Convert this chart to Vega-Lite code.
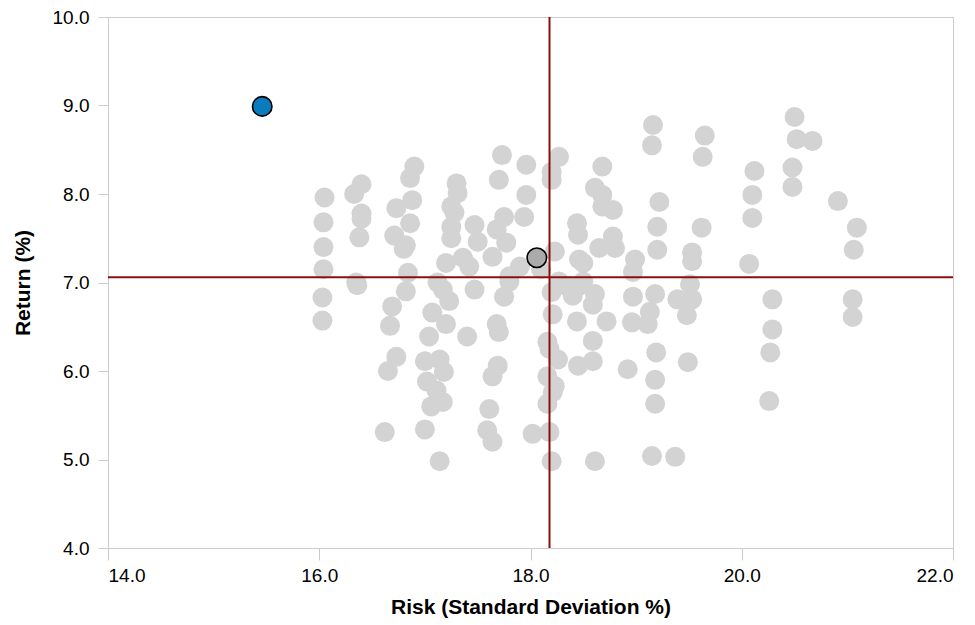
{
  "$schema": "https://vega.github.io/schema/vega-lite/v6.json",
  "width": 845,
  "height": 531,
  "autosize": "none",
  "padding": {"left": 108, "top": 17, "right": 22, "bottom": 77},
  "background": "white",
  "config": {
    "font": "Liberation Sans",
    "view": {"stroke": "#cccccc", "strokeWidth": 1},
    "axis": {
      "grid": false,
      "domainColor": "#cccccc",
      "tickColor": "#cccccc",
      "labelFont": "Liberation Sans",
      "titleFont": "Liberation Sans",
      "labelFontSize": 19,
      "titleFontSize": 21,
      "labelColor": "#000000",
      "titleColor": "#000000",
      "titleFontWeight": "bold"
    }
  },
  "datasets": {
    "peers": [
      {"risk": 16.05, "ret": 7.96}, {"risk": 16.04, "ret": 7.68}, {"risk": 16.04, "ret": 7.40}, {"risk": 16.04, "ret": 7.15}, {"risk": 16.03, "ret": 6.83}, {"risk": 16.03, "ret": 6.57},
      {"risk": 16.40, "ret": 8.11}, {"risk": 16.33, "ret": 8.00}, {"risk": 16.40, "ret": 7.78}, {"risk": 16.40, "ret": 7.72}, {"risk": 16.38, "ret": 7.51}, {"risk": 16.35, "ret": 7.00}, {"risk": 16.36, "ret": 6.97},
      {"risk": 16.90, "ret": 8.31}, {"risk": 16.86, "ret": 8.18}, {"risk": 16.88, "ret": 7.93}, {"risk": 16.73, "ret": 7.84}, {"risk": 16.86, "ret": 7.67}, {"risk": 16.71, "ret": 7.53}, {"risk": 16.82, "ret": 7.42}, {"risk": 16.80, "ret": 7.38}, {"risk": 16.84, "ret": 7.11}, {"risk": 16.82, "ret": 6.90}, {"risk": 16.69, "ret": 6.73}, {"risk": 16.67, "ret": 6.51}, {"risk": 16.73, "ret": 6.16}, {"risk": 16.65, "ret": 6.00}, {"risk": 16.62, "ret": 5.31},
      {"risk": 17.30, "ret": 8.12}, {"risk": 17.31, "ret": 8.01}, {"risk": 17.28, "ret": 7.79}, {"risk": 17.25, "ret": 7.86}, {"risk": 17.25, "ret": 7.63}, {"risk": 17.25, "ret": 7.50}, {"risk": 17.47, "ret": 7.65}, {"risk": 17.50, "ret": 7.46}, {"risk": 17.20, "ret": 7.22}, {"risk": 17.36, "ret": 7.28}, {"risk": 17.42, "ret": 7.18}, {"risk": 17.17, "ret": 6.92}, {"risk": 17.23, "ret": 6.79}, {"risk": 17.07, "ret": 6.66}, {"risk": 17.20, "ret": 6.53}, {"risk": 17.04, "ret": 6.39}, {"risk": 17.40, "ret": 6.39}, {"risk": 17.47, "ret": 6.92}, {"risk": 17.00, "ret": 6.11}, {"risk": 17.14, "ret": 6.13}, {"risk": 17.18, "ret": 5.99}, {"risk": 17.02, "ret": 5.88}, {"risk": 17.11, "ret": 5.78}, {"risk": 17.06, "ret": 5.60}, {"risk": 17.17, "ret": 5.65}, {"risk": 17.00, "ret": 5.34}, {"risk": 17.14, "ret": 4.98}, {"risk": 17.12, "ret": 7.00},
      {"risk": 17.73, "ret": 8.44}, {"risk": 17.70, "ret": 8.16}, {"risk": 17.68, "ret": 7.60}, {"risk": 17.64, "ret": 7.29}, {"risk": 17.75, "ret": 7.74}, {"risk": 17.77, "ret": 7.45}, {"risk": 17.90, "ret": 7.18}, {"risk": 17.80, "ret": 7.07}, {"risk": 17.80, "ret": 7.01}, {"risk": 17.75, "ret": 6.84}, {"risk": 17.68, "ret": 6.53}, {"risk": 17.70, "ret": 6.44}, {"risk": 17.69, "ret": 6.06}, {"risk": 17.64, "ret": 5.94}, {"risk": 17.61, "ret": 5.57}, {"risk": 17.59, "ret": 5.33}, {"risk": 17.64, "ret": 5.20},
      {"risk": 17.96, "ret": 8.33}, {"risk": 17.96, "ret": 7.99}, {"risk": 17.94, "ret": 7.74}, {"risk": 18.27, "ret": 8.42}, {"risk": 18.20, "ret": 8.25}, {"risk": 18.20, "ret": 8.16}, {"risk": 18.10, "ret": 7.15}, {"risk": 18.23, "ret": 7.35}, {"risk": 18.27, "ret": 7.01}, {"risk": 18.02, "ret": 5.29}, {"risk": 18.18, "ret": 5.31}, {"risk": 18.20, "ret": 4.98}, {"risk": 18.16, "ret": 6.33}, {"risk": 18.26, "ret": 6.13}, {"risk": 18.16, "ret": 5.94}, {"risk": 18.23, "ret": 5.83}, {"risk": 18.21, "ret": 5.76}, {"risk": 18.16, "ret": 5.63}, {"risk": 18.20, "ret": 6.89}, {"risk": 18.21, "ret": 6.64}, {"risk": 18.18, "ret": 6.25},
      {"risk": 18.68, "ret": 8.31}, {"risk": 18.61, "ret": 8.07}, {"risk": 18.68, "ret": 7.99}, {"risk": 18.68, "ret": 7.86}, {"risk": 18.78, "ret": 7.82}, {"risk": 18.44, "ret": 7.67}, {"risk": 18.45, "ret": 7.54}, {"risk": 18.46, "ret": 7.26}, {"risk": 18.50, "ret": 7.22}, {"risk": 18.65, "ret": 7.39}, {"risk": 18.78, "ret": 7.52}, {"risk": 18.80, "ret": 7.39}, {"risk": 18.50, "ret": 7.01}, {"risk": 18.34, "ret": 6.96}, {"risk": 18.46, "ret": 6.96}, {"risk": 18.61, "ret": 6.87}, {"risk": 18.59, "ret": 6.75}, {"risk": 18.44, "ret": 6.56}, {"risk": 18.72, "ret": 6.56}, {"risk": 18.59, "ret": 6.34}, {"risk": 18.45, "ret": 6.06}, {"risk": 18.59, "ret": 6.11}, {"risk": 18.61, "ret": 4.98}, {"risk": 18.40, "ret": 6.85},
      {"risk": 18.99, "ret": 7.26}, {"risk": 18.97, "ret": 7.12}, {"risk": 18.97, "ret": 6.84}, {"risk": 18.96, "ret": 6.55}, {"risk": 18.92, "ret": 6.02}, {"risk": 19.16, "ret": 8.78}, {"risk": 19.15, "ret": 8.55}, {"risk": 19.22, "ret": 7.91}, {"risk": 19.20, "ret": 7.63}, {"risk": 19.20, "ret": 7.37}, {"risk": 19.18, "ret": 6.87}, {"risk": 19.13, "ret": 6.67}, {"risk": 19.11, "ret": 6.53}, {"risk": 19.19, "ret": 6.21}, {"risk": 19.18, "ret": 5.90}, {"risk": 19.18, "ret": 5.63}, {"risk": 19.15, "ret": 5.04}, {"risk": 19.37, "ret": 5.03},
      {"risk": 19.65, "ret": 8.66}, {"risk": 19.63, "ret": 8.42}, {"risk": 19.62, "ret": 7.62}, {"risk": 19.53, "ret": 7.34}, {"risk": 19.53, "ret": 7.24}, {"risk": 19.51, "ret": 6.98}, {"risk": 19.39, "ret": 6.81}, {"risk": 19.53, "ret": 6.81}, {"risk": 19.48, "ret": 6.63}, {"risk": 19.49, "ret": 6.10},
      {"risk": 20.12, "ret": 8.26}, {"risk": 20.10, "ret": 7.99}, {"risk": 20.10, "ret": 7.73}, {"risk": 20.07, "ret": 7.21}, {"risk": 20.50, "ret": 8.87}, {"risk": 20.52, "ret": 8.62}, {"risk": 20.67, "ret": 8.60}, {"risk": 20.48, "ret": 8.30}, {"risk": 20.48, "ret": 8.08}, {"risk": 20.91, "ret": 7.92}, {"risk": 21.09, "ret": 7.62}, {"risk": 21.06, "ret": 7.37}, {"risk": 20.29, "ret": 6.81}, {"risk": 20.29, "ret": 6.47}, {"risk": 20.27, "ret": 6.21}, {"risk": 20.26, "ret": 5.66}, {"risk": 21.05, "ret": 6.81}, {"risk": 21.05, "ret": 6.61}
    ],
    "fund": [{"risk": 15.46, "ret": 8.99}],
    "bench": [{"risk": 18.06, "ret": 7.28}],
    "avgRisk": [{"risk": 18.18}],
    "avgRet": [{"ret": 7.06}]
  },
  "layer": [
    {
      "data": {"name": "peers"},
      "mark": {"type": "point", "shape": "circle", "filled": true, "size": 400, "color": "#d3d3d3", "opacity": 1, "strokeWidth": 0},
      "encoding": {
        "x": {"field": "risk", "type": "quantitative", "scale": {"domain": [14, 22], "nice": false, "zero": false},
          "axis": {"values": [14, 16, 18, 20, 22], "format": ".1f", "title": "Risk (Standard Deviation %)", "tickSize": 12, "labelPadding": 6, "titlePadding": 11}},
        "y": {"field": "ret", "type": "quantitative", "scale": {"domain": [4, 10], "nice": false, "zero": false},
          "axis": {"values": [4, 5, 6, 7, 8, 9, 10], "format": ".1f", "title": "Return (%)", "tickSize": 10, "labelPadding": 9, "titlePadding": 19}}
      }
    },
    {
      "data": {"name": "avgRisk"},
      "mark": {"type": "rule", "color": "#8b0f0f", "strokeWidth": 2},
      "encoding": {"x": {"field": "risk", "type": "quantitative"}}
    },
    {
      "data": {"name": "avgRet"},
      "mark": {"type": "rule", "color": "#8b0f0f", "strokeWidth": 2},
      "encoding": {"y": {"field": "ret", "type": "quantitative"}}
    },
    {
      "data": {"name": "bench"},
      "mark": {"type": "point", "shape": "circle", "filled": true, "size": 380, "fill": "#ababab", "stroke": "#000000", "strokeWidth": 1.6, "opacity": 1},
      "encoding": {
        "x": {"field": "risk", "type": "quantitative"},
        "y": {"field": "ret", "type": "quantitative"}
      }
    },
    {
      "data": {"name": "fund"},
      "mark": {"type": "point", "shape": "circle", "filled": true, "size": 380, "fill": "#0a7bbd", "stroke": "#000000", "strokeWidth": 1.6, "opacity": 1},
      "encoding": {
        "x": {"field": "risk", "type": "quantitative"},
        "y": {"field": "ret", "type": "quantitative"}
      }
    }
  ]
}
